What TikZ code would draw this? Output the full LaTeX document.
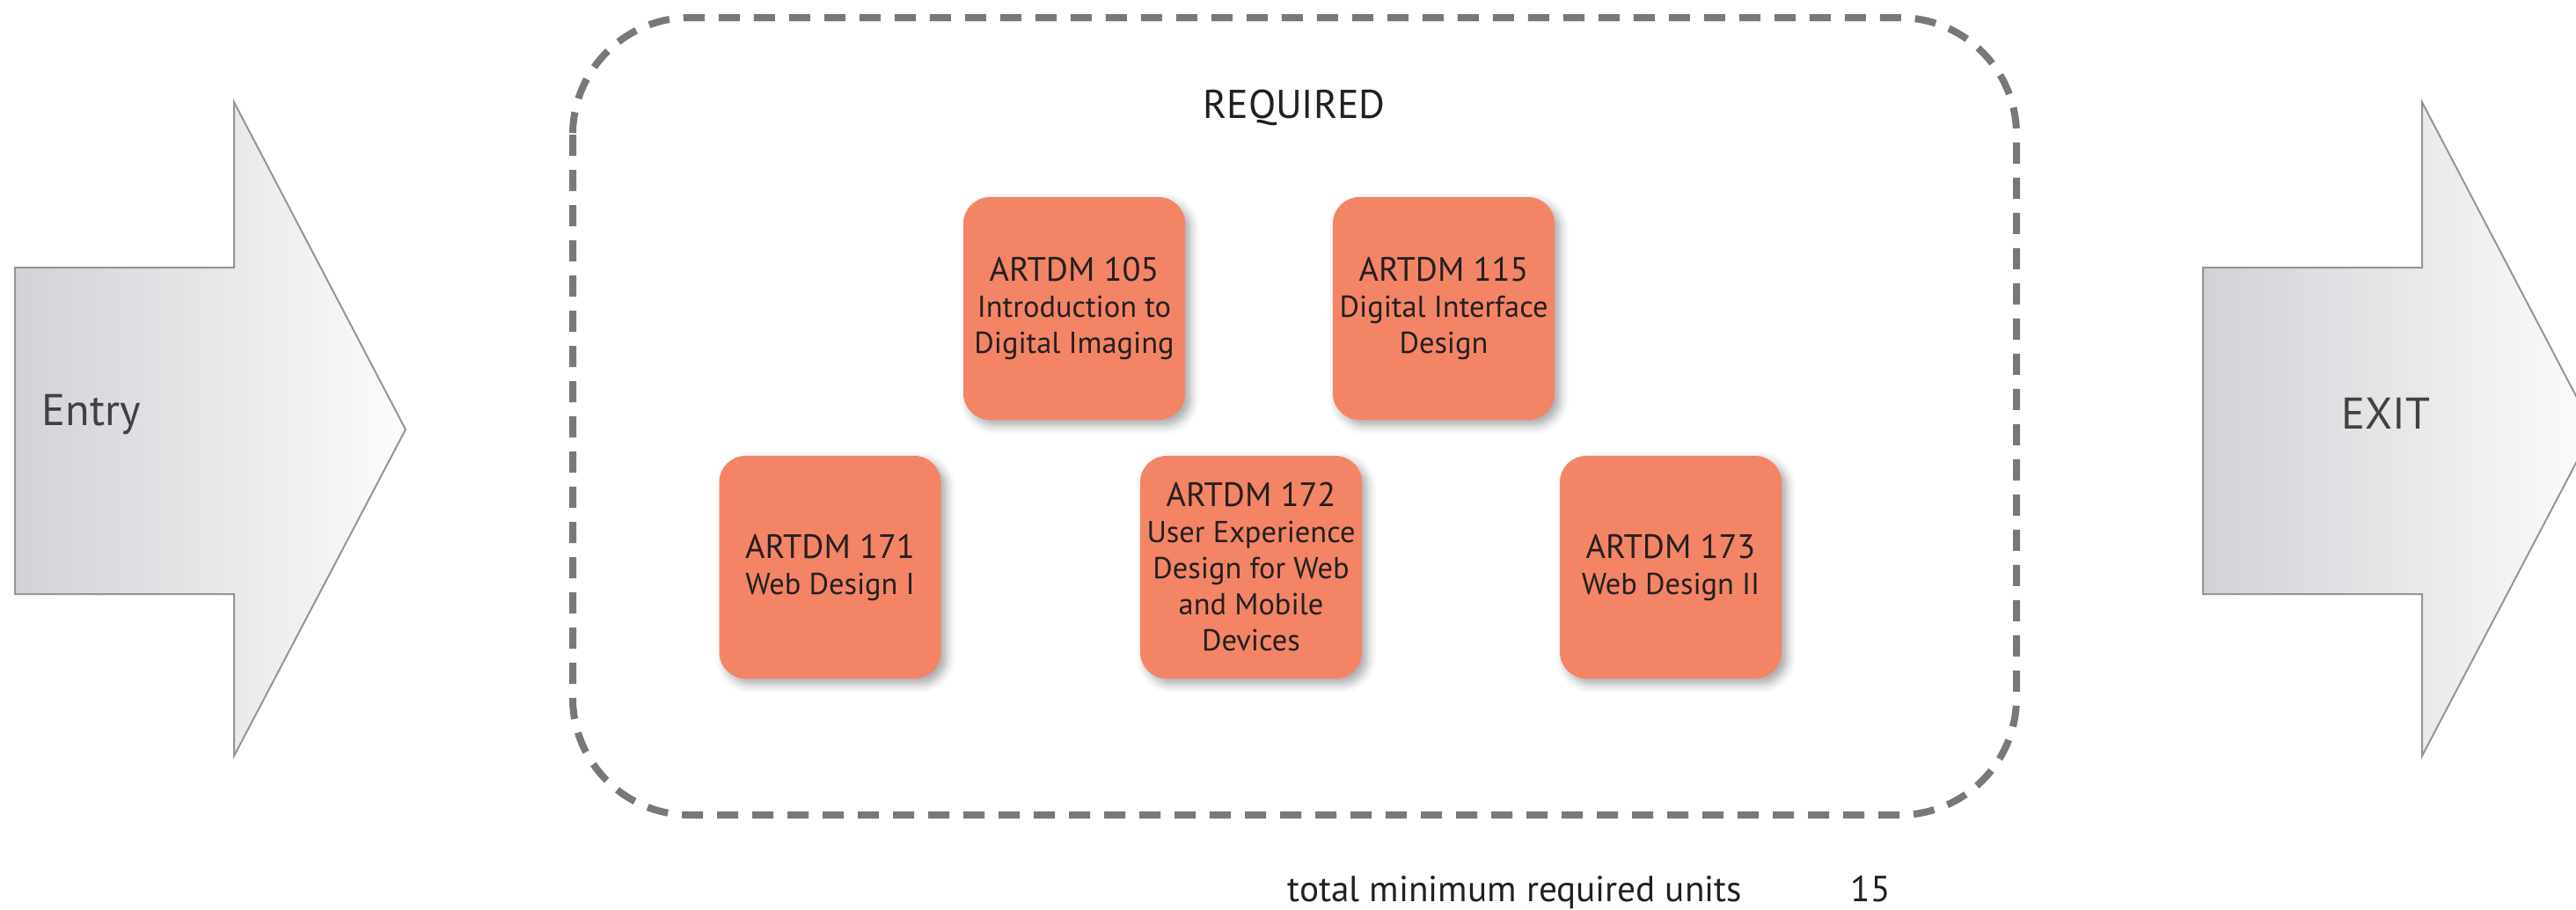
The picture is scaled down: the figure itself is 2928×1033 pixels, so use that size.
\documentclass[tikz,border=0pt]{standalone}
\usepackage{fontspec}
\setmainfont{PT Sans}
\usetikzlibrary{shadows.blur}
\definecolor{salmon}{RGB}{244,132,102}
\definecolor{dashgray}{RGB}{119,120,123}
\definecolor{arrowline}{RGB}{147,149,152}
\definecolor{txt}{RGB}{35,31,32}
\definecolor{arrowtxt}{RGB}{65,64,66}
\definecolor{shadeL}{RGB}{210,210,215}
\definecolor{shadeR}{RGB}{252,252,252}
\newcommand\coursetitle[1]{{\fontsize{9.6pt}{10.25pt}\selectfont #1}}
\begin{document}
\begin{tikzpicture}[x=0.25pt,y=-0.25pt,
  course/.style={fill=salmon, rounded corners=7.5pt, minimum width=63pt,
    minimum height=63.25pt, inner sep=0pt, align=center, text=txt,
    font=\fontsize{8.6pt}{10.25pt}\selectfont,
    blur shadow={shadow xshift=1.5pt, shadow yshift=-1.5pt,
      shadow blur radius=2.5pt, shadow opacity=35}},
  bigarrow/.style={left color=shadeL, right color=shadeR, draw=arrowline,
    line width=0.5pt, line join=miter},
  arrowlabel/.style={anchor=base west, inner sep=0pt, text=arrowtxt,
    font=\fontsize{12.6pt}{14pt}\selectfont},
  group/.style={draw=dashgray, line width=2pt, dash pattern=on 6pt off 4pt,
    rounded corners=33.25pt},
  plain/.style={anchor=base west, inner sep=0pt, text=txt,
    font=\fontsize{10.3pt}{12pt}\selectfont}]
\useasboundingbox (0,0) rectangle (2928,1033);
\begin{scope}
\clip (0,0) rectangle (2928,1033);
% entry arrow
\shadedraw[bigarrow] (17,304) -- (266,304) -- (266,116) -- (461,488)
  -- (266,859) -- (266,675) -- (17,675) -- cycle;
% exit arrow
\shadedraw[bigarrow] (2504,304) -- (2753,304) -- (2753,116) -- (2948,488)
  -- (2753,859) -- (2753,675) -- (2504,675) -- cycle;
\end{scope}
\node[arrowlabel] (entry) at (47,483) {Entry};
\node[arrowlabel] (exit) at (2661,487) {EXIT};
% required group
\draw[group] (651,20) rectangle (2292,926);
\node[anchor=base, inner sep=0pt, text=txt, font=\fontsize{11.4pt}{13pt}\selectfont]
  (req) at (1471,134) {REQUIRED};
% courses
\node[course] (c105) at (1221,350.5) {\coursetitle{ARTDM 105}\\Introduction to\\Digital Imaging};
\node[course] (c115) at (1641,350.5) {\coursetitle{ARTDM 115}\\Digital Interface\\Design};
\node[course] (c171) at (943.5,644.5) {\coursetitle{ARTDM 171}\\Web Design I};
\node[course] (c172) at (1422,644.5) {\coursetitle{ARTDM 172}\\User Experience\\Design for Web\\and Mobile\\Devices};
\node[course] (c173) at (1899,644.5) {\coursetitle{ARTDM 173}\\Web Design II};
% total
\node[plain] (total) at (1463,1024) {total minimum required units};
\node[plain] (units) at (2103,1024) {15};
\end{tikzpicture}
\end{document}
